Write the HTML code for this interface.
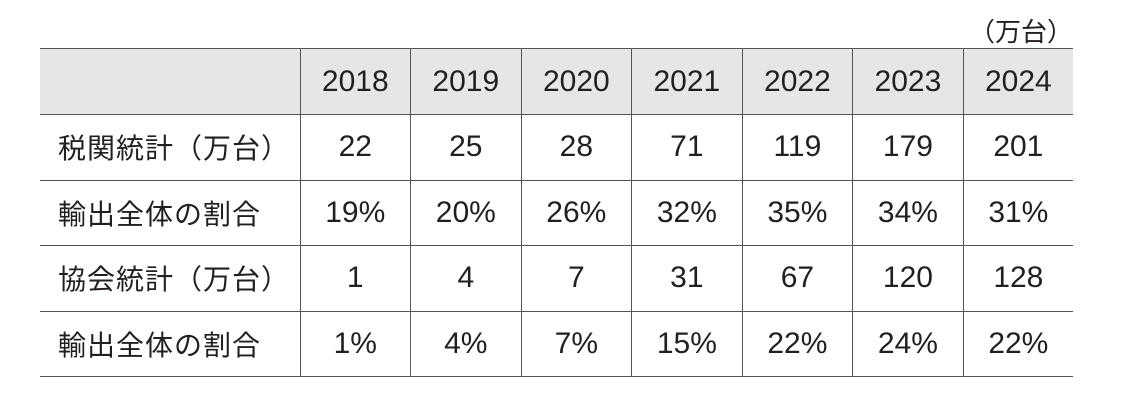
<!DOCTYPE html>
<html><head><meta charset="utf-8"><style>
body{margin:0;width:1123px;height:402px;background:#fff;font-family:"Liberation Sans","Noto Sans CJK JP",sans-serif;color:#231f20;position:relative;overflow:hidden}
.unit{position:absolute;right:50px;top:12px;font-size:26px}
table{position:absolute;left:40px;top:48px;border-collapse:collapse;width:1033px}
td{height:65.5px;box-sizing:border-box;padding:0;text-align:center;font-size:30px;border-top:1.5px solid #555;border-bottom:1.5px solid #555;border-left:1.5px solid #555}
td:first-child{border-left:none;text-align:left;padding-left:18px;width:260px;font-size:28px;letter-spacing:1px}
tr.h td{background:#e6e6e8;height:66px}
</style></head><body>
<div class="unit">（万台）</div>
<table>
<tr class="h"><td></td><td>2018</td><td>2019</td><td>2020</td><td>2021</td><td>2022</td><td>2023</td><td>2024</td></tr>
<tr><td>税関統計（万台）</td><td>22</td><td>25</td><td>28</td><td>71</td><td>119</td><td>179</td><td>201</td></tr>
<tr><td>輸出全体の割合</td><td>19%</td><td>20%</td><td>26%</td><td>32%</td><td>35%</td><td>34%</td><td>31%</td></tr>
<tr><td>協会統計（万台）</td><td>1</td><td>4</td><td>7</td><td>31</td><td>67</td><td>120</td><td>128</td></tr>
<tr><td>輸出全体の割合</td><td>1%</td><td>4%</td><td>7%</td><td>15%</td><td>22%</td><td>24%</td><td>22%</td></tr>
</table>
</body></html>
